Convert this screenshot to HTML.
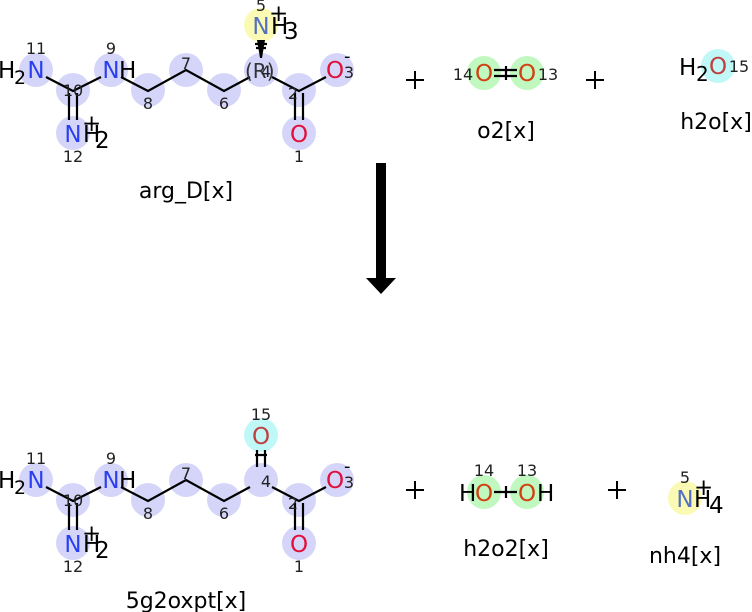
<!DOCTYPE html>
<html><head><meta charset="utf-8"><style>
html,body{margin:0;padding:0;background:#fff}
svg{display:block;font-family:"DejaVu Sans","Liberation Sans",sans-serif}
.n{font-size:16px;fill:#222;text-anchor:middle}
.a{font-size:23px;text-anchor:middle}
.b{stroke:#000;stroke-width:2.2;fill:none}
.lab{font-size:22px;text-anchor:middle;fill:#000}
.p{stroke:#000;stroke-width:2}
</style></head><body>
<svg width="752" height="612" viewBox="0 0 752 612">
<defs>
<g id="chain">
  <g fill="#d5d5fa">
    <circle cx="36" cy="70" r="17"/><circle cx="73" cy="90" r="17"/><circle cx="111" cy="70" r="17"/>
    <circle cx="148" cy="90" r="17"/><circle cx="186" cy="70" r="17"/><circle cx="224" cy="90" r="17"/>
    <circle cx="261" cy="70" r="17"/><circle cx="299" cy="90" r="17"/><circle cx="337" cy="70" r="17"/>
    <circle cx="299" cy="133" r="17"/><circle cx="73" cy="133" r="17"/>
  </g>
  <path class="b" d="M46 77 L73 91 L101 77 M121 77 L148 91 L186 70 L224 91 L250 77 M272 77 L299 91 L326 77"/>
  <path class="b" d="M69 93 V120 M77 93 V120 M295 93 V120 M303 93 V120"/>
  <text class="a" x="36" y="78" fill="#2a3ff0">N</text><text x="-2" y="78" font-size="23">H</text><text x="14" y="84" font-size="19">2</text>
  <text class="a" x="111" y="78" fill="#2a3ff0">N</text><text x="119" y="78" font-size="23">H</text>
  <text class="a" x="73" y="142" fill="#2a3ff0">N</text><text x="83" y="142" font-size="23">H</text><text x="95" y="148" font-size="23">2</text><text x="82" y="131" font-size="23">+</text>
  <text class="a" x="299" y="142" fill="#e0103a">O</text>
  <text class="a" x="335" y="78" fill="#e0103a">O</text><text x="344" y="62" font-size="18">-</text>
  <text class="n" x="36" y="54">11</text><text class="n" x="73" y="96">10</text><text class="n" x="111" y="54">9</text>
  <text class="n" x="148" y="109">8</text><text class="n" x="186" y="69">7</text><text class="n" x="224" y="109">6</text>
  <text class="n" x="293" y="99">2</text><text class="n" x="349" y="78">3</text><text class="n" x="299" y="162">1</text>
  <text class="n" x="73" y="162">12</text>
</g>
</defs>
<use href="#chain"/>
<circle cx="261" cy="25" r="17" fill="#fafab4"/>
<path d="M257 40 L265 40 L262 58 L260 58 Z" fill="#000"/>
<path class="b" d="M255 44 H267 M256 48 H266"/>
<text class="a" x="261" y="34" fill="#5570c0">N</text><text x="271" y="34" font-size="23">H</text><text x="284" y="39" font-size="23">3</text><text x="269" y="21" font-size="23">+</text>
<text class="n" x="261" y="11">5</text>
<text x="245" y="78" font-size="20" fill="#333">(R)</text><text class="n" x="266" y="77">4</text>
<text class="lab" x="186" y="198">arg_D[x]</text>

<path class="p" d="M406 80 H424 M415 71 V89 M586 80 H604 M595 71 V89"/>
<circle cx="484" cy="73" r="17" fill="#c0f8c0"/><circle cx="527" cy="73" r="17" fill="#c0f8c0"/>
<path class="b" d="M494 70 H517 M494 76 H517 M506 66 V80"/>
<text class="a" x="484" y="81" fill="#d04010">O</text><text class="a" x="527" y="81" fill="#d04010">O</text>
<text class="n" x="463" y="80">14</text><text class="n" x="548" y="80">13</text>
<text class="lab" x="506" y="138">o2[x]</text>
<circle cx="718" cy="66" r="17" fill="#c0f8f8"/>
<text x="679" y="75" font-size="23">H</text><text x="696" y="81" font-size="20">2</text>
<text class="a" x="718" y="74" fill="#c04040">O</text><text class="n" x="739" y="72">15</text>
<text class="lab" x="716" y="129">h2o[x]</text>

<rect x="376" y="163" width="10" height="117" fill="#000"/>
<path d="M366 278 H396 L381 294 Z" fill="#000"/>

<use href="#chain" y="410"/>
<circle cx="261" cy="435" r="17" fill="#c0f8f8"/>
<path class="b" d="M257 450 V467 M265 450 V467 M255 455 H267"/>
<text class="a" x="261" y="444" fill="#c04040">O</text><text class="n" x="261" y="420">15</text>
<text class="n" x="266" y="487">4</text>
<text class="lab" x="186" y="608">5g2oxpt[x]</text>

<path class="p" d="M406 490 H424 M415 481 V499 M608 490 H626 M617 481 V499"/>
<circle cx="484" cy="492" r="17" fill="#c0f8c0"/><circle cx="527" cy="492" r="17" fill="#c0f8c0"/>
<path class="b" d="M494 492 H517 M506 486 V498"/>
<text x="459" y="501" font-size="23">H</text><text class="a" x="484" y="501" fill="#d04010">O</text>
<text class="a" x="527" y="501" fill="#d04010">O</text><text x="537" y="501" font-size="23">H</text>
<text class="n" x="484" y="476">14</text><text class="n" x="527" y="476">13</text>
<text class="lab" x="506" y="556">h2o2[x]</text>
<circle cx="685" cy="498" r="17" fill="#fafab4"/>
<text class="a" x="685" y="507" fill="#5570c0">N</text><text x="694" y="507" font-size="23">H</text><text x="709" y="513" font-size="23">4</text><text x="694" y="495" font-size="23">+</text>
<text class="n" x="685" y="483">5</text>
<text class="lab" x="685" y="563">nh4[x]</text>
</svg>
</body></html>
